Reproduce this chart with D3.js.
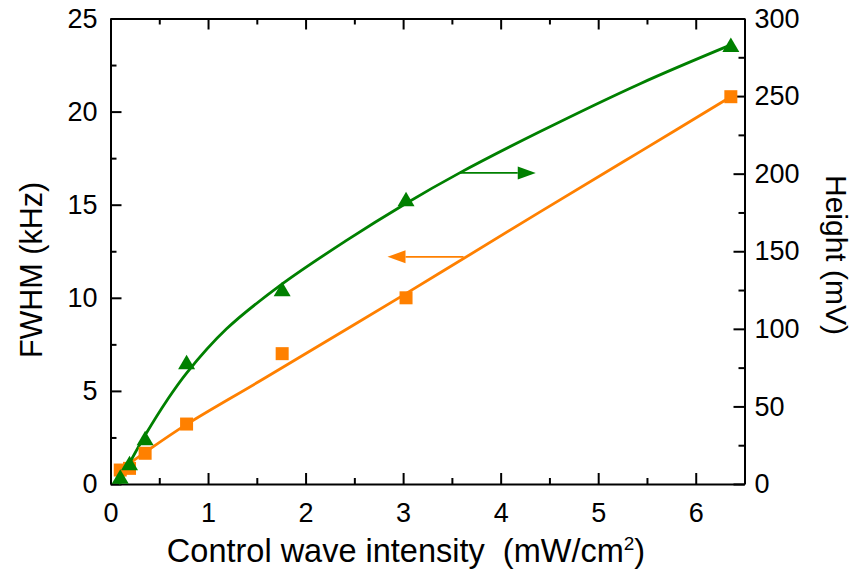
<!DOCTYPE html>
<html>
<head>
<meta charset="utf-8">
<script src="https://cdn.jsdelivr.net/npm/d3@7"></script>
<style>
  body { margin: 0; background: #fff; }
  svg text { font-family: "Liberation Sans", Arial, sans-serif; fill: #000; }
  .axis path, .axis line { stroke: #000; stroke-width: 2px; }
  .axis text { font-size: 27px; }
  .title { font-size: 30.5px; }
</style>
</head>
<body>
<div class="chart"></div>
<script>
const WIDTH = 854;
const HEIGHT = 579;
const LEFT = 110.5, RIGHT = 744.5, TOP = 18.5, BOTTOM = 484;

const GREEN = '#008000';
const ORANGE = '#ff8000';

// measured points
var intensity = [0.10, 0.195, 0.355, 0.78, 1.76, 3.03, 6.36];
var fwhm = [0.75, 0.84, 1.65, 3.22, 7.0, 10.0, 20.8];
var heightMv = [4.7, 13.3, 29.5, 78.5, 125.5, 183.5, 283];

// fitted curves
var fitHeightX = [0.085, 0.2, 0.37, 0.58, 0.78, 1.19, 1.74, 2.42, 3.02, 3.58, 4.40, 5.43, 6.36];
var fitHeightY = [0, 14, 33, 54, 71.5, 100, 128, 157, 180.5, 200.5, 227, 258, 283];
var fitFwhmX = [0.06, 0.355, 0.78, 1.57, 3.02, 4.40, 5.43, 6.36];
var fitFwhmY = [0.6, 1.7, 3.2, 5.65, 10.2, 14.6, 17.85, 20.8];

// arrows: [x start, x end, y]
var arrowHeight = [3.58, 4.36, 200.5];
var arrowFwhm = [3.62, 2.84, 12.2];

var xTicks = [0, 1, 2, 3, 4, 5, 6];
var xMinor = [0.5, 1.5, 2.5, 3.5, 4.5, 5.5, 6.5];
var yLeftTicks = [0, 5, 10, 15, 20, 25];
var yLeftMinor = [2.5, 7.5, 12.5, 17.5, 22.5];
var yRightTicks = [0, 50, 100, 150, 200, 250, 300];
var yRightMinor = [25, 75, 125, 175, 225, 275];

var x = d3.scaleLinear().domain([0, 6.5]).range([LEFT, RIGHT]);
var yLeft = d3.scaleLinear().domain([0, 25]).range([BOTTOM, TOP]);
var yRight = d3.scaleLinear().domain([0, 300]).range([BOTTOM, TOP]);

var svg = d3.select('.chart').append('svg')
    .attr('width', WIDTH)
    .attr('height', HEIGHT);

function drawAxis(axis, minorAxis, transform) {
    svg.append('g').attr('class', 'axis').attr('transform', transform)
        .call(minorAxis).call(g => g.select('.domain').remove());
    svg.append('g').attr('class', 'axis').attr('transform', transform).call(axis);
}

drawAxis(d3.axisBottom(x).tickValues(xTicks).tickSize(-11).tickSizeOuter(0).tickPadding(19).tickFormat(d3.format('d')),
    d3.axisBottom(x).tickValues(xMinor).tickSize(-6).tickFormat(''),
    'translate(0,' + BOTTOM + ')');
drawAxis(d3.axisTop(x).tickValues(xTicks).tickSize(-11).tickSizeOuter(0).tickFormat(''),
    d3.axisTop(x).tickValues(xMinor).tickSize(-6).tickFormat(''),
    'translate(0,' + TOP + ')');
drawAxis(d3.axisLeft(yLeft).tickValues(yLeftTicks).tickSize(-11).tickSizeOuter(0).tickPadding(13),
    d3.axisLeft(yLeft).tickValues(yLeftMinor).tickSize(-6).tickFormat(''),
    'translate(' + LEFT + ',0)');
drawAxis(d3.axisRight(yRight).tickValues(yRightTicks).tickSize(-11).tickSizeOuter(0).tickPadding(10),
    d3.axisRight(yRight).tickValues(yRightMinor).tickSize(-6).tickFormat(''),
    'translate(' + RIGHT + ',0)');

svg.selectAll('.axis text').attr('fill', '#000');

// fit lines
var lineHeight = d3.line().curve(d3.curveCatmullRom.alpha(0.5))
    .x(function (d, i) { return x(fitHeightX[i]); })
    .y(function (d) { return yRight(d); });
var lineFwhm = d3.line().curve(d3.curveCatmullRom.alpha(0.5))
    .x(function (d, i) { return x(fitFwhmX[i]); })
    .y(function (d) { return yLeft(d); });

svg.append('path').attr('d', lineFwhm(fitFwhmY))
    .attr('fill', 'none').attr('stroke', ORANGE).attr('stroke-width', 2.8);
svg.append('path').attr('d', lineHeight(fitHeightY))
    .attr('fill', 'none').attr('stroke', GREEN).attr('stroke-width', 2.8);

// markers
svg.append('g').selectAll('rect').data(fwhm).enter().append('rect')
    .attr('x', function (d, i) { return x(intensity[i]) - 6.5; })
    .attr('y', function (d) { return yLeft(d) - 6.5; })
    .attr('width', 13).attr('height', 13)
    .attr('fill', ORANGE);

svg.append('g').selectAll('path').data(heightMv).enter().append('path')
    .attr('d', function (d, i) {
        var cx = x(intensity[i]), cy = yRight(d);
        return 'M' + cx + ',' + (cy - 7.5) + 'L' + (cx + 8.5) + ',' + (cy + 7) +
            'L' + (cx - 8.5) + ',' + (cy + 7) + 'Z';
    })
    .attr('fill', GREEN);

// arrows
function drawArrow(x0, x1, yPos, color) {
    var dir = x1 > x0 ? 1 : -1;
    var tip = x(x1);
    var base = tip - dir * 18;
    svg.append('line')
        .attr('x1', x(x0)).attr('x2', base).attr('y1', yPos).attr('y2', yPos)
        .attr('stroke', color).attr('stroke-width', 1.6);
    svg.append('path')
        .attr('d', 'M' + tip + ',' + yPos + 'L' + base + ',' + (yPos - 6.5) +
            'L' + base + ',' + (yPos + 6.5) + 'Z')
        .attr('fill', color);
}
drawArrow(arrowHeight[0], arrowHeight[1], yRight(arrowHeight[2]), GREEN);
drawArrow(arrowFwhm[0], arrowFwhm[1], yLeft(arrowFwhm[2]), ORANGE);

// titles
svg.append('text').attr('class', 'title')
    .attr('transform', 'translate(42,270) rotate(-90)')
    .attr('text-anchor', 'middle')
    .text('FWHM (kHz)');

svg.append('text').attr('class', 'title')
    .attr('transform', 'translate(826,255) rotate(90)')
    .attr('text-anchor', 'middle')
    .style('font-size', '30px')
    .text('Height (mV)');

var xt = svg.append('text').attr('class', 'title')
    .attr('x', 406).attr('y', 562)
    .attr('text-anchor', 'middle')
    .attr('xml:space', 'preserve')
    .style('font-size', '32.5px')
    .style('white-space', 'pre');
xt.append('tspan').text('Control wave intensity  (mW/cm');
xt.append('tspan').attr('dy', -12).style('font-size', '19px').text('2');
xt.append('tspan').attr('dy', 12).text(')');
</script>
</body>
</html>
